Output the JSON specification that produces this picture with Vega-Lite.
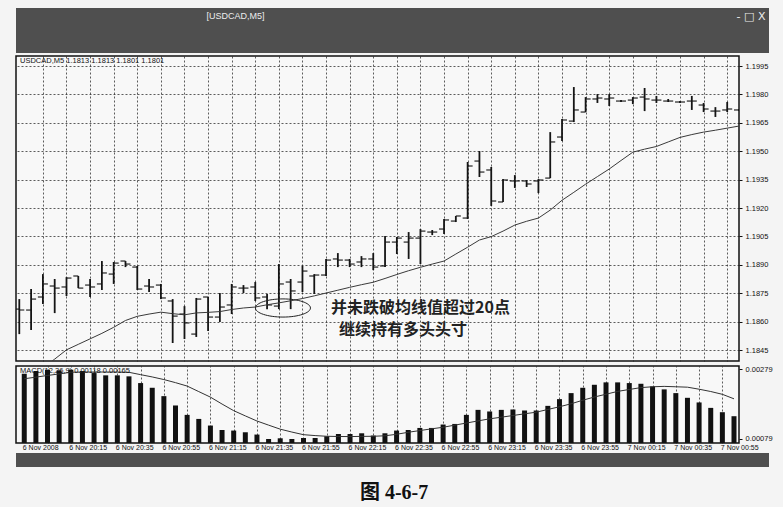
{
  "$schema": "https://vega.github.io/schema/vega-lite/v6.json",
  "background": "#f4f4f4",
  "padding": {"left": 15, "top": 8, "right": 15, "bottom": 4},
  "spacing": 2,
  "title": {"text": "图 4-6-7", "orient": "bottom", "anchor": "middle", "font": "Liberation Serif, Noto Sans CJK SC", "fontSize": 20, "fontWeight": "bold", "color": "#111", "offset": 16},
  "datasets": {
    "bars": [
      {"t": "2008-11-06T19:55:00Z", "o": 1.18666, "h": 1.18719, "l": 1.18534, "c": 1.18661, "ma": 1.18249, "macd": 0.002663, "sig": 0.002519},
      {"t": "2008-11-06T20:00:00Z", "o": 1.18661, "h": 1.18772, "l": 1.18556, "c": 1.18719, "ma": 1.18302, "macd": 0.002741, "sig": 0.002565},
      {"t": "2008-11-06T20:05:00Z", "o": 1.18730, "h": 1.18851, "l": 1.18693, "c": 1.18799, "ma": 1.18355, "macd": 0.002778, "sig": 0.002614},
      {"t": "2008-11-06T20:10:00Z", "o": 1.18788, "h": 1.18825, "l": 1.18645, "c": 1.18777, "ma": 1.18402, "macd": 0.002761, "sig": 0.002657},
      {"t": "2008-11-06T20:15:00Z", "o": 1.18783, "h": 1.18835, "l": 1.18735, "c": 1.18830, "ma": 1.18451, "macd": 0.002778, "sig": 0.002706},
      {"t": "2008-11-06T20:20:00Z", "o": 1.18841, "h": 1.18841, "l": 1.18777, "c": 1.18777, "ma": 1.18480, "macd": 0.002741, "sig": 0.002712},
      {"t": "2008-11-06T20:25:00Z", "o": 1.18793, "h": 1.18825, "l": 1.18730, "c": 1.18783, "ma": 1.18509, "macd": 0.002683, "sig": 0.002712},
      {"t": "2008-11-06T20:30:00Z", "o": 1.18799, "h": 1.18920, "l": 1.18767, "c": 1.18857, "ma": 1.18538, "macd": 0.002617, "sig": 0.002712},
      {"t": "2008-11-06T20:35:00Z", "o": 1.18851, "h": 1.18915, "l": 1.18799, "c": 1.18909, "ma": 1.18570, "macd": 0.002617, "sig": 0.002712},
      {"t": "2008-11-06T20:40:00Z", "o": 1.18920, "h": 1.18920, "l": 1.18888, "c": 1.18904, "ma": 1.18606, "macd": 0.002588, "sig": 0.002704},
      {"t": "2008-11-06T20:45:00Z", "o": 1.18888, "h": 1.18894, "l": 1.18767, "c": 1.18772, "ma": 1.18628, "macd": 0.002395, "sig": 0.002637},
      {"t": "2008-11-06T20:50:00Z", "o": 1.18788, "h": 1.18825, "l": 1.18756, "c": 1.18783, "ma": 1.18640, "macd": 0.002260, "sig": 0.002571},
      {"t": "2008-11-06T20:55:00Z", "o": 1.18793, "h": 1.18799, "l": 1.18719, "c": 1.18725, "ma": 1.18650, "macd": 0.002020, "sig": 0.002496},
      {"t": "2008-11-06T21:00:00Z", "o": 1.18709, "h": 1.18719, "l": 1.18487, "c": 1.18629, "ma": 1.18642, "macd": 0.001752, "sig": 0.002407},
      {"t": "2008-11-06T21:05:00Z", "o": 1.18640, "h": 1.18682, "l": 1.18508, "c": 1.18593, "ma": 1.18636, "macd": 0.001482, "sig": 0.002309},
      {"t": "2008-11-06T21:10:00Z", "o": 1.18534, "h": 1.18725, "l": 1.18519, "c": 1.18719, "ma": 1.18646, "macd": 0.001366, "sig": 0.002150},
      {"t": "2008-11-06T21:15:00Z", "o": 1.18730, "h": 1.18730, "l": 1.18550, "c": 1.18624, "ma": 1.18649, "macd": 0.001176, "sig": 0.001992},
      {"t": "2008-11-06T21:20:00Z", "o": 1.18624, "h": 1.18751, "l": 1.18598, "c": 1.18677, "ma": 1.18653, "macd": 0.001049, "sig": 0.001793},
      {"t": "2008-11-06T21:25:00Z", "o": 1.18688, "h": 1.18799, "l": 1.18640, "c": 1.18783, "ma": 1.18664, "macd": 0.001032, "sig": 0.001603},
      {"t": "2008-11-06T21:30:00Z", "o": 1.18777, "h": 1.18793, "l": 1.18751, "c": 1.18777, "ma": 1.18672, "macd": 0.000983, "sig": 0.001453},
      {"t": "2008-11-06T21:35:00Z", "o": 1.18783, "h": 1.18809, "l": 1.18709, "c": 1.18725, "ma": 1.18677, "macd": 0.000917, "sig": 0.001306},
      {"t": "2008-11-06T21:40:00Z", "o": 1.18730, "h": 1.18746, "l": 1.18666, "c": 1.18688, "ma": 1.18689, "macd": 0.000790, "sig": 0.001188},
      {"t": "2008-11-06T21:45:00Z", "o": 1.18682, "h": 1.18904, "l": 1.18666, "c": 1.18799, "ma": 1.18699, "macd": 0.000810, "sig": 0.001072},
      {"t": "2008-11-06T21:50:00Z", "o": 1.18809, "h": 1.18825, "l": 1.18666, "c": 1.18762, "ma": 1.18710, "macd": 0.000790, "sig": 0.000989},
      {"t": "2008-11-06T21:55:00Z", "o": 1.18809, "h": 1.18894, "l": 1.18756, "c": 1.18867, "ma": 1.18722, "macd": 0.000819, "sig": 0.000914},
      {"t": "2008-11-06T22:00:00Z", "o": 1.18841, "h": 1.18851, "l": 1.18746, "c": 1.18846, "ma": 1.18736, "macd": 0.000819, "sig": 0.000888},
      {"t": "2008-11-06T22:05:00Z", "o": 1.18846, "h": 1.18931, "l": 1.18841, "c": 1.18925, "ma": 1.18751, "macd": 0.000868, "sig": 0.000868},
      {"t": "2008-11-06T22:10:00Z", "o": 1.18931, "h": 1.18962, "l": 1.18888, "c": 1.18925, "ma": 1.18766, "macd": 0.000934, "sig": 0.000862},
      {"t": "2008-11-06T22:15:00Z", "o": 1.18925, "h": 1.18931, "l": 1.18888, "c": 1.18904, "ma": 1.18781, "macd": 0.000934, "sig": 0.000859},
      {"t": "2008-11-06T22:20:00Z", "o": 1.18915, "h": 1.18946, "l": 1.18888, "c": 1.18931, "ma": 1.18795, "macd": 0.000954, "sig": 0.000865},
      {"t": "2008-11-06T22:25:00Z", "o": 1.18931, "h": 1.18962, "l": 1.18872, "c": 1.18888, "ma": 1.18808, "macd": 0.000888, "sig": 0.000868},
      {"t": "2008-11-06T22:30:00Z", "o": 1.18894, "h": 1.19052, "l": 1.18888, "c": 1.19020, "ma": 1.18828, "macd": 0.000954, "sig": 0.000882},
      {"t": "2008-11-06T22:35:00Z", "o": 1.19020, "h": 1.19047, "l": 1.18957, "c": 1.19041, "ma": 1.18849, "macd": 0.001032, "sig": 0.000925},
      {"t": "2008-11-06T22:40:00Z", "o": 1.19020, "h": 1.19073, "l": 1.18931, "c": 1.19041, "ma": 1.18869, "macd": 0.001049, "sig": 0.000983},
      {"t": "2008-11-06T22:45:00Z", "o": 1.19041, "h": 1.19089, "l": 1.18904, "c": 1.19078, "ma": 1.18887, "macd": 0.001107, "sig": 0.001032},
      {"t": "2008-11-06T22:50:00Z", "o": 1.19073, "h": 1.19084, "l": 1.19057, "c": 1.19073, "ma": 1.18904, "macd": 0.001107, "sig": 0.001081},
      {"t": "2008-11-06T22:55:00Z", "o": 1.19089, "h": 1.19142, "l": 1.19063, "c": 1.19137, "ma": 1.18920, "macd": 0.001205, "sig": 0.001127},
      {"t": "2008-11-06T23:00:00Z", "o": 1.19131, "h": 1.19158, "l": 1.19126, "c": 1.19158, "ma": 1.18957, "macd": 0.001222, "sig": 0.001188},
      {"t": "2008-11-06T23:05:00Z", "o": 1.19147, "h": 1.19443, "l": 1.19142, "c": 1.19422, "ma": 1.18993, "macd": 0.001482, "sig": 0.001248},
      {"t": "2008-11-06T23:10:00Z", "o": 1.19448, "h": 1.19501, "l": 1.19364, "c": 1.19390, "ma": 1.19031, "macd": 0.001626, "sig": 0.001309},
      {"t": "2008-11-06T23:15:00Z", "o": 1.19401, "h": 1.19417, "l": 1.19211, "c": 1.19237, "ma": 1.19049, "macd": 0.001580, "sig": 0.001369},
      {"t": "2008-11-06T23:20:00Z", "o": 1.19232, "h": 1.19353, "l": 1.19232, "c": 1.19348, "ma": 1.19078, "macd": 0.001626, "sig": 0.001415},
      {"t": "2008-11-06T23:25:00Z", "o": 1.19343, "h": 1.19374, "l": 1.19306, "c": 1.19343, "ma": 1.19110, "macd": 0.001637, "sig": 0.001464},
      {"t": "2008-11-06T23:30:00Z", "o": 1.19343, "h": 1.19348, "l": 1.19311, "c": 1.19327, "ma": 1.19130, "macd": 0.001608, "sig": 0.001513},
      {"t": "2008-11-06T23:35:00Z", "o": 1.19343, "h": 1.19353, "l": 1.19279, "c": 1.19348, "ma": 1.19147, "macd": 0.001608, "sig": 0.001559},
      {"t": "2008-11-06T23:40:00Z", "o": 1.19358, "h": 1.19601, "l": 1.19358, "c": 1.19549, "ma": 1.19189, "macd": 0.001741, "sig": 0.001637},
      {"t": "2008-11-06T23:45:00Z", "o": 1.19575, "h": 1.19670, "l": 1.19554, "c": 1.19665, "ma": 1.19241, "macd": 0.001934, "sig": 0.001715},
      {"t": "2008-11-06T23:50:00Z", "o": 1.19659, "h": 1.19839, "l": 1.19654, "c": 1.19718, "ma": 1.19283, "macd": 0.002107, "sig": 0.001801},
      {"t": "2008-11-06T23:55:00Z", "o": 1.19707, "h": 1.19786, "l": 1.19707, "c": 1.19776, "ma": 1.19326, "macd": 0.002260, "sig": 0.001902},
      {"t": "2008-11-07T00:00:00Z", "o": 1.19776, "h": 1.19802, "l": 1.19755, "c": 1.19781, "ma": 1.19366, "macd": 0.002346, "sig": 0.001995},
      {"t": "2008-11-07T00:05:00Z", "o": 1.19776, "h": 1.19802, "l": 1.19739, "c": 1.19781, "ma": 1.19406, "macd": 0.002415, "sig": 0.002075},
      {"t": "2008-11-07T00:10:00Z", "o": 1.19765, "h": 1.19770, "l": 1.19760, "c": 1.19765, "ma": 1.19451, "macd": 0.002415, "sig": 0.002156},
      {"t": "2008-11-07T00:15:00Z", "o": 1.19770, "h": 1.19786, "l": 1.19749, "c": 1.19781, "ma": 1.19495, "macd": 0.002395, "sig": 0.002211},
      {"t": "2008-11-07T00:20:00Z", "o": 1.19786, "h": 1.19834, "l": 1.19712, "c": 1.19776, "ma": 1.19511, "macd": 0.002375, "sig": 0.002265},
      {"t": "2008-11-07T00:25:00Z", "o": 1.19770, "h": 1.19792, "l": 1.19755, "c": 1.19770, "ma": 1.19525, "macd": 0.002300, "sig": 0.002289},
      {"t": "2008-11-07T00:30:00Z", "o": 1.19765, "h": 1.19776, "l": 1.19760, "c": 1.19765, "ma": 1.19549, "macd": 0.002214, "sig": 0.002300},
      {"t": "2008-11-07T00:35:00Z", "o": 1.19760, "h": 1.19765, "l": 1.19755, "c": 1.19760, "ma": 1.19573, "macd": 0.002107, "sig": 0.002289},
      {"t": "2008-11-07T00:40:00Z", "o": 1.19765, "h": 1.19792, "l": 1.19718, "c": 1.19765, "ma": 1.19588, "macd": 0.001972, "sig": 0.002277},
      {"t": "2008-11-07T00:45:00Z", "o": 1.19744, "h": 1.19755, "l": 1.19707, "c": 1.19723, "ma": 1.19601, "macd": 0.001839, "sig": 0.002219},
      {"t": "2008-11-07T00:50:00Z", "o": 1.19712, "h": 1.19733, "l": 1.19681, "c": 1.19712, "ma": 1.19611, "macd": 0.001683, "sig": 0.002153},
      {"t": "2008-11-07T00:55:00Z", "o": 1.19718, "h": 1.19760, "l": 1.19707, "c": 1.19723, "ma": 1.19622, "macd": 0.001559, "sig": 0.002072},
      {"t": "2008-11-07T01:00:00Z", "o": 1.19718, "h": 1.19723, "l": 1.19712, "c": 1.19718, "ma": 1.19633, "macd": 0.001444, "sig": 0.001943}
    ],
    "notes": [
      {"t": "2008-11-06T22:07:06Z", "p": 1.18674, "label": "并未跌破均线值超过20点"},
      {"t": "2008-11-06T22:10:30Z", "p": 1.18555, "label": "继续持有多头头寸"}
    ],
    "oval": [
      {"t": "2008-11-06T21:46:44Z", "p": 1.18672}
    ]
  },
  "vconcat": [
    {
      "width": 753,
      "height": 45,
      "view": {"fill": "#4f4f4f", "stroke": null},
      "data": {"values": [{}]},
      "layer": [
        {"mark": {"type": "text", "text": "[USDCAD,M5]", "color": "#ececec", "fontSize": 9, "font": "Liberation Sans", "dx": -157, "dy": -14.8}, "encoding": {}},
        {"mark": {"type": "text", "text": "-  □  X", "color": "#ececec", "fontSize": 11, "font": "DejaVu Sans", "align": "right", "dx": 373, "dy": -13.5}, "encoding": {}}
      ]
    },
    {
      "width": 723,
      "height": 305,
      "view": {"fill": "#f8f8f8", "stroke": "#111", "strokeWidth": 1.5},
      "title": {"text": "USDCAD,M5  1.1813 1.1813 1.1801 1.1801", "anchor": "start", "frame": "group", "orient": "top", "offset": -8, "fontSize": 7.5, "fontWeight": "normal", "font": "Liberation Sans", "color": "#111", "dx": 4},
      "data": {"name": "bars"},
      "encoding": {
        "x": {"field": "t", "type": "temporal", "title": null,
          "scale": {"type": "utc", "domain": [1226001216120, 1226019600000]},
          "axis": {"orient": "bottom", "tickCount": 100, "values": [1226001900000, 1226002500000, 1226003100000, 1226003700000, 1226004300000, 1226004900000, 1226005500000, 1226006100000, 1226006700000, 1226007300000, 1226007900000, 1226008500000, 1226009100000, 1226009700000, 1226010300000, 1226010900000, 1226011500000, 1226012100000, 1226012700000, 1226013300000, 1226013900000, 1226014500000, 1226015100000, 1226015700000, 1226016300000, 1226016900000, 1226017500000, 1226018100000, 1226018700000, 1226019300000],
            "labels": false, "ticks": false, "domain": false, "grid": true}}
      },
      "layer": [
        {"mark": {"type": "rule", "strokeWidth": 1.8, "color": "#151515", "clip": true},
          "encoding": {
            "y": {"field": "l", "type": "quantitative", "title": null,
              "scale": {"domain": [1.18392, 1.20003], "zero": false, "nice": false},
              "axis": {"orient": "right", "tickCount": 100, "values": [1.1845, 1.186, 1.1875, 1.189, 1.1905, 1.192, 1.1935, 1.195, 1.1965, 1.198, 1.1995], "format": ".4f", "grid": true, "ticks": true, "tickSize": 3, "labelPadding": 3, "labelFontSize": 7.5, "labelOverlap": false, "minExtent": 30, "maxExtent": 30, "domain": false}},
            "y2": {"field": "h"}}},
        {"mark": {"type": "tick", "orient": "horizontal", "size": 5, "thickness": 1.6, "xOffset": -2.5, "color": "#151515", "clip": true},
          "encoding": {"y": {"field": "o", "type": "quantitative", "title": null, "scale": {"domain": [1.18392, 1.20003], "zero": false, "nice": false}}}},
        {"mark": {"type": "tick", "orient": "horizontal", "size": 5, "thickness": 1.6, "xOffset": 2.5, "color": "#151515", "clip": true},
          "encoding": {"y": {"field": "c", "type": "quantitative", "title": null, "scale": {"domain": [1.18392, 1.20003], "zero": false, "nice": false}}}},
        {"mark": {"type": "line", "strokeWidth": 1, "color": "#3a3a3a", "clip": true},
          "encoding": {"y": {"field": "ma", "type": "quantitative", "title": null, "scale": {"domain": [1.18392, 1.20003], "zero": false, "nice": false}}}},
        {"data": {"name": "oval"},
          "mark": {"type": "point", "shape": "M-1,0A1,0.33,0,1,1,1,0A1,0.33,0,1,1,-1,0Z", "size": 3025, "filled": false, "stroke": "#222", "strokeWidth": 1, "opacity": 1},
          "encoding": {"y": {"field": "p", "type": "quantitative", "title": null, "scale": {"domain": [1.18392, 1.20003], "zero": false, "nice": false}}}},
        {"data": {"name": "notes"},
          "mark": {"type": "text", "align": "left", "baseline": "middle", "font": "Noto Sans CJK SC", "fontSize": 16, "fontWeight": "bold", "color": "#222"},
          "encoding": {"y": {"field": "p", "type": "quantitative", "title": null, "scale": {"domain": [1.18392, 1.20003], "zero": false, "nice": false}}, "text": {"field": "label"}}}
      ]
    },
    {
      "width": 723,
      "height": 77,
      "view": {"fill": "#f8f8f8", "stroke": "#111", "strokeWidth": 1.5},
      "title": {"text": "MACD(12,26,9) 0.00118 0.00165", "anchor": "start", "frame": "group", "orient": "top", "offset": -9, "fontSize": 7.5, "fontWeight": "normal", "font": "Liberation Sans", "color": "#111", "dx": 4},
      "data": {"name": "bars"},
      "layer": [
        {"mark": {"type": "bar", "orient": "vertical", "size": 5, "color": "#111", "clip": true},
          "encoding": {
            "x": {"field": "t", "type": "temporal", "title": null,
              "scale": {"type": "utc", "domain": [1226001216120, 1226019600000]},
              "axis": {"orient": "bottom", "tickCount": 100, "values": [1226001300000, 1226002500000, 1226003700000, 1226004900000, 1226006100000, 1226007300000, 1226008500000, 1226009700000, 1226010900000, 1226012100000, 1226013300000, 1226014500000, 1226015700000, 1226016900000, 1226018100000, 1226019300000],
                "labelExpr": "utchours(datum.value) == 19 ? '6 Nov 2008' : utcFormat(datum.value, '%-d %b %H:%M')",
                "grid": false, "ticks": false, "domain": false, "labelAlign": "left", "labelBaseline": "top", "labelOffset": -2, "labelPadding": 0, "labelFontSize": 7, "labelFlush": false, "labelOverlap": false}},
            "y": {"field": "macd", "type": "quantitative", "title": null,
              "scale": {"domain": [0.000675, 0.002885], "zero": false, "nice": false},
              "axis": {"orient": "right", "tickCount": 100, "values": [0.00079, 0.00279], "format": ".5f", "grid": false, "ticks": true, "tickSize": 3, "labelPadding": 3, "labelFontSize": 7.5, "labelOverlap": false, "minExtent": 30, "maxExtent": 30, "domain": false}}}},
        {"mark": {"type": "line", "strokeWidth": 1, "color": "#333", "clip": true},
          "encoding": {
            "x": {"field": "t", "type": "temporal", "title": null,
              "scale": {"type": "utc", "domain": [1226001216120, 1226019600000]},
              "axis": {"orient": "top", "tickCount": 100, "values": [1226001900000, 1226002500000, 1226003100000, 1226003700000, 1226004300000, 1226004900000, 1226005500000, 1226006100000, 1226006700000, 1226007300000, 1226007900000, 1226008500000, 1226009100000, 1226009700000, 1226010300000, 1226010900000, 1226011500000, 1226012100000, 1226012700000, 1226013300000, 1226013900000, 1226014500000, 1226015100000, 1226015700000, 1226016300000, 1226016900000, 1226017500000, 1226018100000, 1226018700000, 1226019300000],
                "labels": false, "ticks": false, "domain": false, "grid": true}},
            "y": {"field": "sig", "type": "quantitative", "title": null,
              "scale": {"domain": [0.000675, 0.002885], "zero": false, "nice": false}}}}
      ],
      "resolve": {"axis": {"x": "independent"}}
    },
    {
      "width": 753,
      "height": 14,
      "view": {"fill": "#4f4f4f", "stroke": null},
      "data": {"values": [{}]},
      "mark": {"type": "text", "text": ""},
      "encoding": {}
    }
  ],
  "config": {
    "font": "Liberation Sans",
    "axis": {"labelFont": "Liberation Sans", "labelColor": "#111", "gridColor": "#1a1a1a", "gridDash": [2, 2], "gridOpacity": 0.7, "gridWidth": 1, "tickColor": "#111", "labelOverlap": false}
  }
}
